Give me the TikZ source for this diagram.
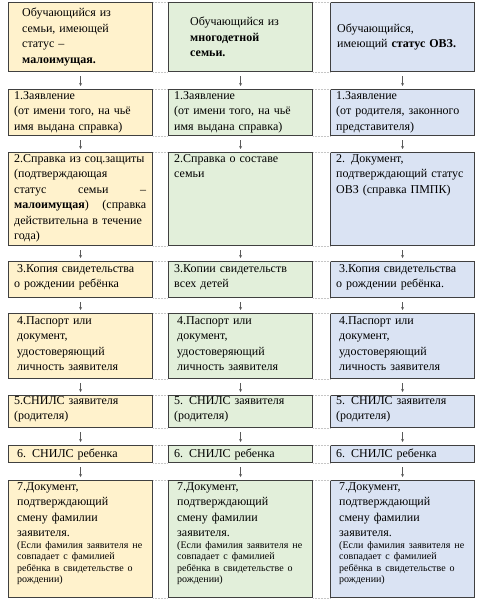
\documentclass[tikz,border=0pt]{standalone}
\usepackage{fontspec}
\setmainfont{Liberation Serif}
\usetikzlibrary{positioning, arrows.meta}

\definecolor{sandA}{HTML}{FFF2CC}
\definecolor{sageB}{HTML}{E2EFDA}
\definecolor{skyC}{HTML}{DAE3F3}
\definecolor{edgegray}{HTML}{404040}

\begin{document}
\begin{tikzpicture}[
		x=1pt,
		y=-1pt,
		font=\fontsize{12}{15.5}\selectfont,
		box/.style={draw=edgegray, line width=1.1pt, minimum width=144pt, anchor=north west, inner sep=0pt},
		txt/.style={anchor=north west, inner sep=0pt, text width=136pt, align=left},
		flow/.style={-{Stealth[length=3pt,width=3pt]}, draw=gray!70!black, line width=0.5pt, shorten <=4pt, shorten >=3pt},
		grid/.style={densely dotted, draw=gray!45, line width=0.5pt}
		]
		\useasboundingbox (0,0) rectangle (482,603);
		
		% Boxes of the three columns
		\foreach \col/\x/\clr in {a/8/sandA, b/168/sageB, c/330/skyC}{
			\foreach \row/\top/\h in {0/2/69, 1/89/46, 2/152/93, 3/261/36, 4/313/65, 5/395/32, 6/445/17, 7/480/117}{
				\node[box, fill=\clr, minimum height=\h pt] (\col\row) at (\x,\top) {};
			}
		}
		
		% Table grid between the columns
		\foreach \l/\r in {a/b, b/c}{
			\foreach \row in {0,...,7}{
				\draw[grid] (\l\row.north east) -- (\r\row.north west);
				\draw[grid] (\l\row.south east) -- (\r\row.south west);
			}
		}
		
		% Arrows down each column
		\foreach \col in {a,b,c}{
			\foreach \row [evaluate=\row as \nxt using int(\row+1)] in {0,...,6}{
				\draw[flow] (\col\row) -- (\col\nxt);
			}
		}
		
		% Headers
		\node[txt] (ta0) at ([xshift=14pt, yshift=-6pt]a0.north west) {Обучающийся из\\ семьи, имеющей\\ статус –\\ \textbf{малоимущая.}};
		\node[txt, anchor=west] (tb0) at ([xshift=22pt]b0.west) {Обучающийся из\\ \textbf{многодетной}\\ \textbf{семьи.}};
		\node[txt, anchor=west] (tc0) at ([xshift=7pt]c0.west) {Обучающийся,\\ имеющий \textbf{статус ОВЗ.}};
		
		% Step 1
		\node[txt] (ta1) at ([xshift=6pt, yshift=-2pt]a1.north west) {1.Заявление\\ (от имени того, на чьё\\ имя выдана справка)};
		\node[txt] (tb1) at ([xshift=6pt, yshift=-2pt]b1.north west) {1.Заявление\\ (от имени того, на чьё\\ имя выдана справка)};
		\node[txt] (tc1) at ([xshift=6pt, yshift=-2pt]c1.north west) {1.Заявление\\ (от родителя, законного\\ представителя)};
		
		% Step 2
		\node[txt, text width=132pt] (ta2) at ([xshift=6pt, yshift=-2pt]a2.north west) {2.Справка из соц.защиты\\ (подтверждающая\\ статус \hfill семьи \hfill –\\ \textbf{малоимущая}) \hfill (справка\\ действительна в течение\\ года)};
		\node[txt] (tb2) at ([xshift=6pt, yshift=-2pt]b2.north west) {2.Справка о составе\\ семьи};
		\node[txt] (tc2) at ([xshift=6pt, yshift=-2pt]c2.north west) {2. Документ,\\ подтверждающий статус\\ ОВЗ (справка ПМПК)};
		
		% Step 3
		\node[txt] (ta3) at ([xshift=6pt, yshift=-3pt]a3.north west) {\hspace{3pt}3.Копия свидетельства\\ о рождении ребёнка};
		\node[txt] (tb3) at ([xshift=6pt, yshift=-3pt]b3.north west) {3.Копии свидетельств\\ всех детей};
		\node[txt] (tc3) at ([xshift=6pt, yshift=-3pt]c3.north west) {\hspace{3pt}3.Копия свидетельства\\ о рождении ребёнка.};
		
		% Step 4
		\node[txt] (ta4) at ([xshift=9pt, yshift=-3pt]a4.north west) {4.Паспорт или\\ документ,\\ удостоверяющий\\ личность заявителя};
		\node[txt] (tb4) at ([xshift=9pt, yshift=-3pt]b4.north west) {4.Паспорт или\\ документ,\\ удостоверяющий\\ личность заявителя};
		\node[txt] (tc4) at ([xshift=9pt, yshift=-3pt]c4.north west) {4.Паспорт или\\ документ,\\ удостоверяющий\\ личность заявителя};
		
		% Step 5
		\node[txt] (ta5) at ([xshift=6pt, yshift=-1pt]a5.north west) {5.СНИЛС заявителя\\ (родителя)};
		\node[txt] (tb5) at ([xshift=6pt, yshift=-1pt]b5.north west) {5. СНИЛС заявителя\\ (родителя)};
		\node[txt] (tc5) at ([xshift=6pt, yshift=-1pt]c5.north west) {5. СНИЛС заявителя\\ (родителя)};
		
		% Step 6
		\node[txt, anchor=west] (ta6) at ([xshift=9pt]a6.west) {6. СНИЛС ребенка};
		\node[txt, anchor=west] (tb6) at ([xshift=6pt]b6.west) {6. СНИЛС ребенка};
		\node[txt, anchor=west] (tc6) at ([xshift=6pt]c6.west) {6. СНИЛС ребенка};
		
		% Step 7
		\foreach \col in {a,b,c}{
			\node[txt] (t\col7) at ([xshift=9pt, yshift=-2pt]\col7.north west) {7.Документ,\\ подтверждающий\\ смену фамилии\\ заявителя.\par
				{\fontsize{10}{11.5}\selectfont (Если фамилия заявителя не\\ совпадает с фамилией\\ ребёнка в свидетельстве о\\ рождении)\par}};
		}
		
	\end{tikzpicture}
\end{document}
